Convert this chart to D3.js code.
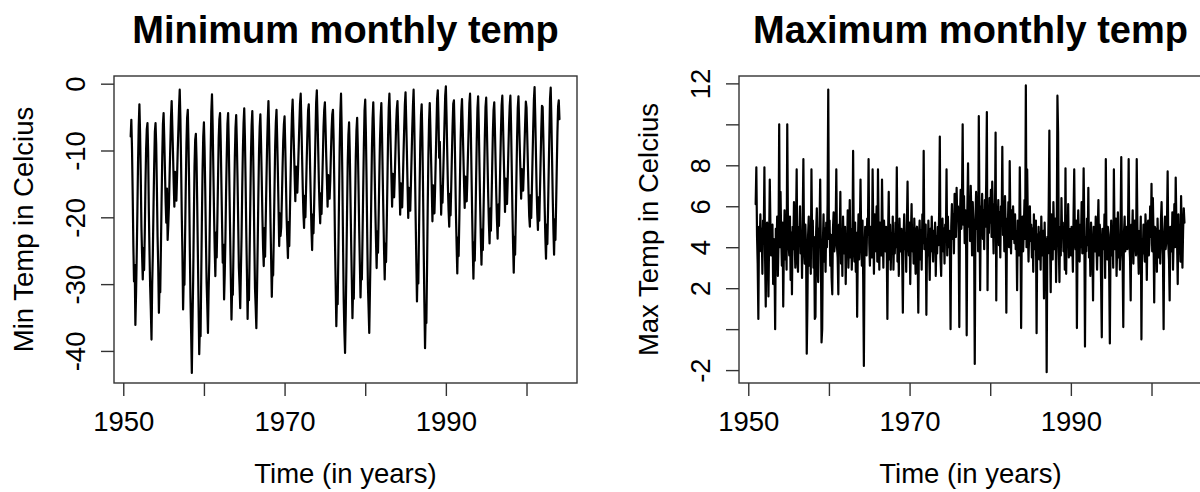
<!DOCTYPE html>
<html>
<head>
<meta charset="utf-8">
<script src="https://cdn.jsdelivr.net/npm/d3@7"></script>
<style>
  html, body { margin: 0; padding: 0; background: #fff; }
  svg { display: block; }
  text { font-family: "Liberation Sans", Arial, Helvetica, sans-serif; fill: #000; }
</style>
</head>
<body>
<svg id="chart" width="1200" height="492"></svg>
<script>
// ---------------- DATA ----------------
const seriesStart = 1950 + 11 / 12;   // first value = December 1950, monthly steps

// Minimum monthly temperature (deg C), Dec 1950 ... Feb 2004
const minTemp = [
  -7.9,
  -5.4, -9.8, -16.5, -24.2, -29.6, -27.1, -36.1, -31.5, -25.8, -19.0, -11.6, -6.3,
  -3.1, -7.4, -13.8, -21.5, -25.7, -29.3, -24.6, -27.9, -22.4, -15.1, -9.7, -6.8,
  -5.9, -10.2, -18.7, -25.1, -30.4, -33.9, -38.3, -30.2, -25.4, -18.3, -12.1, -7.2,
  -5.9, -9.1, -15.6, -22.8, -27.4, -34.3, -29.8, -31.2, -24.7, -17.5, -10.9, -6.1,
  -4.4, -8.3, -12.9, -17.6, -20.8, -15.7, -23.4, -21.1, -18.2, -13.4, -9.2, -5.0,
  -2.6, -6.5, -10.4, -14.8, -18.4, -13.2, -16.9, -17.5, -14.0, -10.1, -6.8, -3.5,
  -0.9, -5.2, -11.8, -19.5, -25.3, -33.8, -28.6, -30.1, -22.7, -15.4, -8.9, -5.1,
  -3.9, -8.6, -15.2, -24.7, -32.1, -37.5, -43.3, -35.8, -29.4, -20.6, -12.3, -8.4,
  -7.5, -11.3, -17.9, -25.6, -33.0, -40.5, -36.2, -37.8, -28.9, -20.1, -12.8, -7.9,
  -5.8, -9.9, -16.1, -23.4, -29.7, -33.2, -37.3, -31.0, -26.5, -18.8, -10.4, -4.2,
  -1.6, -6.3, -12.7, -19.1, -24.6, -28.8, -22.3, -26.0, -20.5, -14.2, -8.1, -5.3,
  -4.4, -8.7, -14.9, -21.0, -26.8, -24.1, -32.3, -28.4, -23.1, -16.0, -10.5, -6.0,
  -4.4, -9.0, -15.8, -22.6, -28.9, -35.3, -30.7, -31.6, -24.8, -17.3, -11.0, -6.6,
  -4.7, -8.8, -14.3, -20.9, -27.5, -30.2, -33.6, -28.1, -22.9, -15.6, -9.8, -5.9,
  -3.7, -8.1, -14.6, -22.1, -28.3, -35.2, -29.5, -32.4, -25.3, -17.8, -10.6, -6.2,
  -4.1, -8.5, -15.3, -23.8, -30.6, -33.4, -36.6, -30.9, -24.2, -16.7, -10.1, -6.4,
  -4.6, -8.9, -14.1, -19.8, -24.5, -27.3, -21.6, -25.9, -20.3, -14.6, -9.3, -5.4,
  -2.6, -7.0, -13.5, -20.4, -26.2, -31.9, -27.0, -28.7, -22.5, -15.9, -9.4, -5.8,
  -3.9, -8.2, -13.1, -18.6, -24.3, -19.4, -22.8, -21.5, -17.2, -12.6, -8.5, -6.1,
  -4.9, -9.3, -14.4, -19.9, -23.2, -26.1, -20.7, -24.3, -19.0, -13.8, -8.7, -4.5,
  -2.4, -6.1, -9.8, -13.9, -17.6, -12.4, -15.8, -16.3, -13.0, -9.6, -6.0, -2.9,
  -1.5, -5.7, -10.6, -15.4, -19.3, -21.6, -16.8, -20.0, -15.7, -11.2, -7.3, -4.0,
  -3.1, -7.2, -12.5, -17.3, -21.8, -24.9, -19.6, -22.4, -18.1, -12.9, -7.6, -2.8,
  -1.0, -5.0, -9.7, -14.6, -18.3, -20.9, -16.4, -19.5, -15.2, -10.8, -6.4, -3.9,
  -2.8, -6.6, -10.9, -14.4, -18.4, -13.7, -16.1, -17.2, -14.5, -10.3, -6.9, -4.6,
  -3.9, -8.4, -15.1, -23.6, -29.8, -36.3, -31.4, -33.0, -25.7, -17.4, -9.5, -4.3,
  -1.5, -6.8, -14.2, -23.9, -32.5, -37.1, -40.3, -34.6, -27.2, -18.9, -11.7, -7.6,
  -5.8, -10.1, -16.7, -23.3, -29.0, -35.1, -30.4, -32.2, -25.1, -17.6, -10.8, -6.9,
  -5.1, -9.4, -15.2, -21.7, -26.9, -32.0, -27.5, -29.3, -23.0, -15.8, -9.1, -4.0,
  -2.4, -7.3, -14.5, -22.8, -30.1, -33.6, -37.3, -31.2, -25.0, -16.9, -9.6, -5.2,
  -2.8, -7.1, -12.9, -18.7, -23.4, -27.6, -22.1, -25.3, -19.8, -13.7, -8.3, -4.9,
  -2.9, -7.5, -13.6, -19.4, -24.8, -29.3, -23.9, -26.7, -21.2, -14.8, -8.0, -3.6,
  -1.5, -5.4, -9.9, -14.1, -18.4, -13.5, -16.6, -17.0, -13.8, -10.0, -6.2, -3.8,
  -2.6, -6.4, -10.7, -15.0, -19.6, -14.9, -17.3, -18.5, -14.7, -10.4, -6.6, -3.1,
  -1.3, -5.6, -10.2, -15.3, -20.1, -15.6, -18.2, -19.0, -15.1, -10.9, -6.7, -3.4,
  -0.9, -5.9, -12.6, -19.8, -26.3, -32.6, -27.4, -29.9, -22.6, -15.0, -8.6, -4.7,
  -3.1, -8.0, -15.4, -24.5, -32.7, -39.6, -34.1, -35.8, -27.6, -18.5, -10.7, -5.6,
  -2.9, -6.8, -11.3, -15.7, -20.6, -15.2, -18.1, -19.4, -15.6, -11.0, -6.5, -2.2,
  -1.0, -5.1, -11.1, -8.7, -14.3, -19.6, -15.4, -17.8, -13.9, -9.9, -5.7, -1.8,
  -0.4, -4.8, -10.1, -15.2, -18.9, -21.4, -16.5, -19.7, -15.3, -10.6, -6.3, -3.0,
  -2.5, -7.0, -13.1, -19.6, -24.2, -28.4, -23.0, -25.8, -20.4, -14.1, -8.2, -4.1,
  -2.3, -6.2, -10.5, -14.7, -18.6, -13.9, -16.8, -17.6, -14.2, -10.2, -6.4, -2.9,
  -1.5, -6.0, -12.4, -18.9, -24.6, -29.2, -23.7, -26.5, -20.8, -14.3, -8.1, -3.7,
  -1.9, -6.3, -12.2, -18.1, -23.0, -27.1, -21.8, -24.9, -19.5, -13.6, -7.8, -3.5,
  -2.1, -6.4, -11.6, -16.8, -20.9, -23.9, -18.7, -22.0, -17.4, -12.1, -7.1, -3.9,
  -2.8, -6.9, -11.8, -16.5, -20.4, -23.2, -18.1, -21.3, -16.9, -11.7, -6.9, -3.2,
  -1.8, -5.8, -10.3, -14.6, -19.2, -14.2, -16.9, -18.0, -14.4, -10.1, -6.1, -3.3,
  -1.8, -6.2, -12.5, -18.8, -24.1, -28.3, -22.9, -25.6, -20.1, -13.9, -8.0, -3.6,
  -1.9, -5.7, -9.6, -13.3, -17.2, -12.8, -15.1, -16.0, -12.9, -9.3, -5.8, -2.7,
  -3.6, -7.5, -11.9, -16.2, -19.8, -21.4, -16.7, -20.1, -15.8, -11.0, -6.4, -2.4,
  -0.5, -4.9, -10.3, -15.6, -19.4, -21.9, -17.0, -20.5, -16.1, -11.3, -6.8, -3.3,
  -3.5, -7.8, -13.0, -18.4, -22.9, -26.2, -21.1, -24.0, -19.0, -13.2, -7.7, -2.2,
  -0.6, -5.3, -11.2, -17.0, -21.8, -25.6, -20.3, -23.4, -18.4, -12.7, -7.3, -3.4,
  -2.5, -5.3
];

// Maximum monthly temperature (deg C), Dec 1950 ... Feb 2004
const maxTemp = [
  6.1,
  7.9, 4.6, 3.2, 0.5, 5.0, 4.1, 5.6, 3.8, 4.9, 2.7, 5.3, 4.4,
  7.9, 3.5, 1.1, 4.8, 5.2, 3.9, 1.6, 4.3, 7.3, 5.0, 3.6, 4.7,
  5.1, 2.2, 4.4, 3.3, 0.0, 4.9, 3.7, 5.5, 2.6, 4.2, 10.0, 4.0,
  6.7, 4.5, 3.1, 5.2, 1.1, 4.0, 5.8, 3.4, 4.6, 2.9, 10.0, 5.3,
  4.1, 3.6, 5.5, 2.4, 4.7, 1.7, 5.0, 3.9, 6.2, 4.3, 3.0, 5.1,
  7.8, 3.4, 2.8, 5.0, 4.2, 6.0, 3.7, 4.8, 2.5, 5.4, 8.3, 4.1,
  3.2, 5.1, 4.0, -1.2, 1.2, 4.6, 5.5, 3.1, 4.9, 2.7, 7.8, 4.4,
  5.3, 3.0, 4.5, 0.5, 0.6, 4.8, 5.9, 3.6, 2.3, 4.7, 5.0, 7.3,
  3.9, -0.65, 0.0, 4.2, 5.6, 3.3, 4.9, 2.8, 5.2, 4.0, 6.1, 11.7,
  4.4, 5.3, 3.1, 4.6, 2.5, 1.7, 4.9, 5.7, 3.8, 4.2, 5.0, 7.8,
  4.0, 3.5, 1.7, 5.1, 4.3, 6.7, 3.2, 4.8, 2.6, 5.5, 4.1, 3.7,
  5.0, 2.2, 4.6, 3.9, 5.8, 3.0, 4.4, 6.3, 3.5, 4.9, 2.9, 4.3,
  8.7, 4.2, 3.3, 5.2, 2.8, 4.7, 0.6, 4.0, 5.6, 3.4, 4.8, 7.3,
  4.5, 3.1, 5.3, 2.4, -1.8, 3.9, 5.0, 4.1, 3.6, 5.4, 4.6, 8.3,
  4.2, 3.1, 5.0, 4.4, 3.5, 7.8, 4.9, 2.7, 5.6, 3.8, 4.5, 6.0,
  3.3, 7.8, 4.7, 2.9, 5.2, 4.1, 3.6, 7.3, 4.8, 3.0, 5.3, 4.4,
  3.8, 5.0, 4.3, 0.5, 4.6, 6.7, 3.4, 5.1, 2.9, 4.7, 3.9, 5.5,
  2.9, 4.6, 3.7, 5.2, 4.0, 7.9, 3.3, 4.9, 2.6, 5.4, 4.2, 3.8,
  4.9, 3.5, 0.8, 4.4, 5.6, 3.9, 4.7, 2.8, 5.1, 7.2, 4.3, 3.6,
  5.2, 2.2, 4.6, 6.1, 3.8, 4.9, 3.2, 5.4, 4.1, 2.7, 4.8, 5.0,
  3.7, 0.8, 4.5, 5.3, 3.4, 4.8, 2.9, 5.6, 4.2, 8.7, 3.9, 4.6,
  5.1, 0.7, 4.4, 3.6, 5.3, 4.0, 2.4, 4.9, 3.8, 5.5, 4.2, 3.3,
  4.8, 3.9, 5.2, 2.6, 4.5, 3.7, 5.0, 4.1, 5.7, 9.4, 3.5, 2.6,
  4.6, 5.4, 3.8, 4.9, 3.2, 5.1, 4.3, 7.8, 3.6, 5.5, 4.0, 4.8,
  3.9, 0.0, 5.0, 6.1, 4.4, 5.6, 3.7, 6.6, 5.2, 4.5, 6.9, 5.3,
  6.0, 4.7, 0.1, 5.5, 6.8, 4.9, 6.3, 10.0, 5.1, 6.5, 4.2, 5.8,
  4.8, -0.3, 5.9, 8.1, 5.0, 6.4, 4.3, 7.0, 5.6, 3.6, 6.2, 5.1,
  4.5, -1.7, 5.3, 6.7, 4.9, 6.1, 3.8, 10.4, 5.7, 1.9, 6.0, 5.4,
  6.6, 4.4, 5.8, 3.9, 6.3, 5.0, 7.1, 10.6, 1.9, 5.9, 4.7, 6.4,
  5.2, 6.8, 4.5, 7.2, 5.6, 3.7, 6.1, 5.3, 9.6, 1.4, 5.8, 4.9,
  6.3, 4.1, 5.7, 3.5, 6.0, 5.2, 8.9, 4.6, 5.9, 3.8, 6.5, 5.1,
  0.8, 5.4, 4.6, 6.2, 4.0, 8.2, 5.1, 3.7, 5.8, 4.4, 6.0, 5.0,
  4.2, 5.6, 3.9, 4.8, 1.9, 5.3, 4.6, 3.6, 7.9, 5.1, 0.05, 4.7,
  5.5, 3.8, 4.9, 6.3, 4.4, 11.9, 4.0, 7.8, 5.2, 3.3, 4.8, 6.0,
  4.3, 5.1, 3.5, 4.9, 2.8, 5.6, 4.2, 3.9, 5.3, -0.2, 4.6, 3.7,
  5.0, 3.4, 4.7, 2.9, 5.5, 4.1, 3.6, 4.8, 1.5, 5.2, 3.1, 4.4,
  -2.1, 4.5, 3.7, 5.9, 9.7, 4.3, 1.8, 5.6, 4.0, 3.4, 6.2, 4.8,
  3.9, 5.4, 2.3, 4.6, 11.4, 9.6, 4.1, 2.3, 5.0, 3.6, 6.4, 4.5,
  5.2, 3.8, 4.7, 2.9, 7.85, 2.7, 5.3, 4.0, 6.1, 3.5, 4.9, 4.2,
  3.6, 5.0, 4.3, 2.8, 5.6, 7.8, 4.2, 3.9, 5.3, 0.05, 4.6, 5.8,
  4.4, 3.3, 5.1, 4.0, 6.2, 3.7, 4.8, 7.85, 5.0, -0.85, 4.5, 3.8,
  5.4, 4.1, 6.9, 3.5, 4.7, 2.6, 5.2, 4.3, 3.9, 1.4, 5.0, 4.6,
  3.8, 5.5, 4.2, 2.9, 4.8, 6.3, 3.6, 5.1, 4.4, 2.2, -0.4, 4.9,
  4.7, 3.9, 5.6, 2.5, 8.3, 4.2, 3.4, 5.0, 4.6, 2.8, -0.7, 4.1,
  5.3, 3.6, 4.8, 3.0, 7.8, 4.5, 3.9, 5.4, 2.6, 4.2, 5.7, 3.5,
  4.6, 2.9, 5.2, 8.4, 4.0, 3.3, 0.1, 4.7, 5.5, 3.8, 4.4, 5.0,
  3.9, 4.8, 8.3, 4.2, 3.5, 1.4, 5.1, 4.4, 5.8, 3.2, 4.6, 5.3,
  4.3, 3.6, 8.3, 5.0, 4.1, 2.7, 4.8, 3.9, 5.5, -0.5, 4.4, 3.7,
  5.1, 4.0, 3.3, 5.6, 4.7, 2.4, 4.9, 5.3, 3.6, 4.2, 6.0, 4.5,
  7.1, 3.8, 6.4, 4.6, 1.3, 5.0, 3.7, 4.9, 2.8, 5.4, 4.1, 3.5,
  4.8, 3.2, 5.3, 6.2, 4.4, 3.6, 0.0, 4.7, 5.5, 3.9, 4.3, 5.2,
  7.7, 4.1, 3.4, 1.4, 5.0, 4.6, 3.8, 5.7, 2.9, 4.5, 6.1, 4.0,
  7.4, 5.2, 4.3, 2.2, 5.6, 3.7, 4.9, 3.3, 6.5, 4.6, 3.0, 4.8,
  5.9, 5.2
];

const xTicks = [1950, 1960, 1970, 1980, 1990, 2000];
const xTickLabels = ["1950", "", "1970", "", "1990", ""];
const yTicksMin = [0, -10, -20, -30, -40];
const yTickLabelsMin = ["0", "-10", "-20", "-30", "-40"];
const yTicksMax = [12, 10, 8, 6, 4, 2, 0, -2];
const yTickLabelsMax = ["12", "", "8", "6", "4", "2", "", "-2"];
const titles = ["Minimum monthly temp", "Maximum monthly temp"];
const yTitles = ["Min Temp in Celcius", "Max Temp in Celcius"];
const xTitle = "Time (in years)";

// ---------------- LAYOUT ----------------
const svg = d3.select("#chart");
const box = { top: 76, bottom: 383 };
const panels = [
  { left: 114, right: 577, data: minTemp, yDomain: [-44.8, 1.15], ticks: yTicksMin, labels: yTickLabelsMin, title: titles[0], ytitle: yTitles[0] },
  { left: 739, right: 1202, data: maxTemp, yDomain: [-2.63, 12.36], ticks: yTicksMax, labels: yTickLabelsMax, title: titles[1], ytitle: yTitles[1] }
];
const xDomain = [1948.85, 2006.26];
const tickLen = 13;
const axisColor = "#333";

panels.forEach(p => {
  const x = d3.scaleLinear().domain(xDomain).range([p.left, p.right]);
  const y = d3.scaleLinear().domain(p.yDomain).range([box.bottom, box.top]);
  const g = svg.append("g");

  // series line
  const pts = p.data.map((v, i) => ({ t: seriesStart + i / 12, v }));
  g.append("path")
    .datum(pts)
    .attr("fill", "none")
    .attr("stroke", "#000")
    .attr("stroke-width", 2.2)
    .attr("stroke-linejoin", "round")
    .attr("stroke-linecap", "round")
    .attr("d", d3.line().x(d => x(d.t)).y(d => y(d.v)));

  // box
  g.append("rect")
    .attr("x", p.left).attr("y", box.top)
    .attr("width", p.right - p.left).attr("height", box.bottom - box.top)
    .attr("fill", "none").attr("stroke", axisColor).attr("stroke-width", 1.4);

  // x axis
  const xa = g.append("g")
    .attr("transform", `translate(0,${box.bottom})`)
    .call(d3.axisBottom(x).tickValues(xTicks).tickSize(tickLen)
      .tickFormat((d, i) => xTickLabels[i]));
  xa.select(".domain").remove();
  xa.selectAll("line").attr("stroke", axisColor).attr("stroke-width", 1.4);
  xa.selectAll("text")
    .attr("y", 431 - box.bottom).attr("dy", null)
    .style("font-size", "27.5px")
    .style("font-family", "'Liberation Sans', Arial, Helvetica, sans-serif")
    .attr("fill", "#000");

  // y axis
  const ya = g.append("g")
    .attr("transform", `translate(${p.left},0)`)
    .call(d3.axisLeft(y).tickValues(p.ticks).tickSize(tickLen)
      .tickFormat((d, i) => p.labels[i]));
  ya.select(".domain").remove();
  ya.selectAll("line").attr("stroke", axisColor).attr("stroke-width", 1.4);
  ya.selectAll("text")
    .attr("x", 0).attr("y", -29).attr("dy", null)
    .attr("transform", "rotate(-90)")
    .style("text-anchor", "middle")
    .style("font-size", "27.5px")
    .style("font-family", "'Liberation Sans', Arial, Helvetica, sans-serif")
    .attr("fill", "#000");

  const cx = (p.left + p.right) / 2;
  const cy = (box.top + box.bottom) / 2;

  // title
  g.append("text")
    .attr("x", cx).attr("y", 43)
    .attr("text-anchor", "middle")
    .style("font-size", "38px").style("font-weight", "bold")
    .text(p.title);

  // x title
  g.append("text")
    .attr("x", cx).attr("y", 483)
    .attr("text-anchor", "middle")
    .style("font-size", "27.5px")
    .text(xTitle);

  // y title
  g.append("text")
    .attr("transform", `translate(${p.left - 81},${cy}) rotate(-90)`)
    .attr("text-anchor", "middle")
    .style("font-size", "27.5px")
    .text(p.ytitle);
});
</script>
</body>
</html>
